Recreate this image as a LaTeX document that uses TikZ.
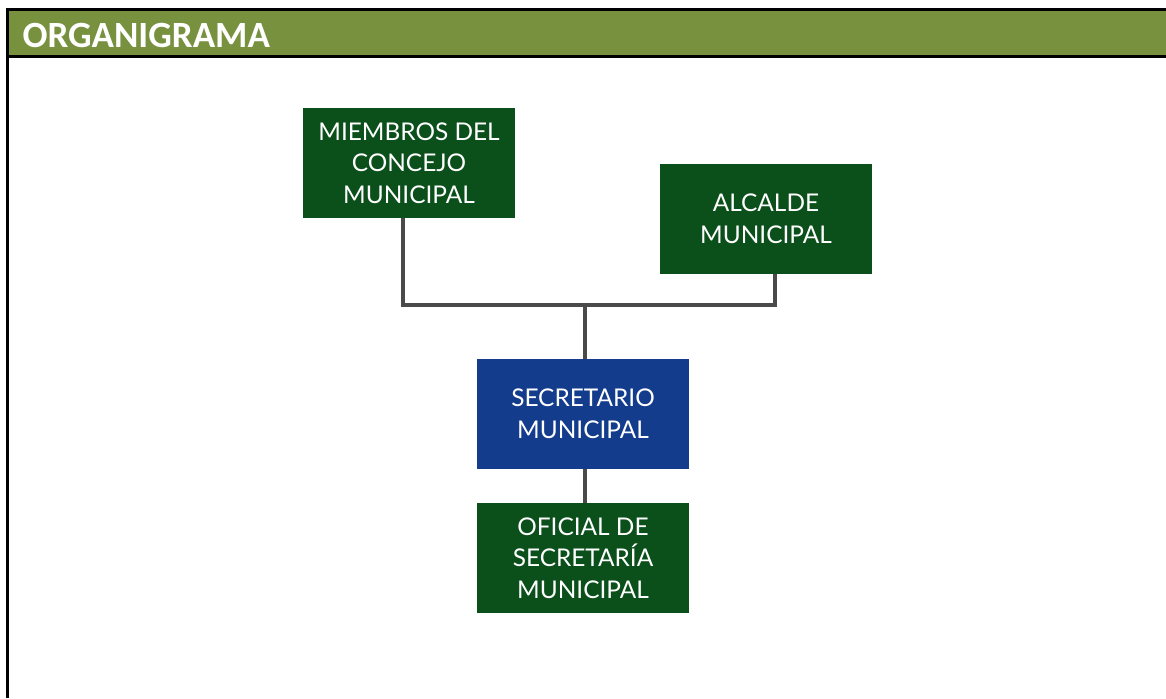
\documentclass[tikz,border=0pt]{standalone}
\usepackage{fontspec}
\setmainfont{Lato}
\newfontfamily\headfont{Carlito}
\definecolor{headgreen}{HTML}{77913F}
\definecolor{boxgreen}{HTML}{0B4F1B}
\definecolor{boxblue}{HTML}{143C8C}
\definecolor{linkgray}{HTML}{4A4A4A}
\tikzset{
  orgbox/.style={fill=boxgreen,text=white,minimum width=212pt,minimum height=110pt,
    align=center,font=\fontsize{24.4}{31.5}\selectfont,inner sep=0pt},
  link/.style={draw=linkgray,line width=3.5pt}
}
\begin{document}
\begin{tikzpicture}[x=1pt,y=-1pt]
        \useasboundingbox (0,0) rectangle (1166,698);
        % frame and title bar
        \fill[headgreen] (7,10) rectangle (1166,57);
        \draw[line width=3pt] (1166,10) -- (7,10) -- (7,698);
        \draw[line width=3pt] (7,57) -- (1166,57);
        \node[anchor=west,text=white,font=\headfont\bfseries\fontsize{37}{37}\selectfont] (title) at (19,35) {ORGANIGRAMA};
        % boxes
        \node[orgbox] (miembros) at (409,163) {MIEMBROS DEL\\CONCEJO\\MUNICIPAL};
        \node[orgbox] (alcalde) at (766,219) {ALCALDE\\MUNICIPAL};
        \node[orgbox,fill=boxblue] (secretario) at (583,414) {SECRETARIO\\MUNICIPAL};
        \node[orgbox] (oficial) at (583,558) {OFICIAL DE\\SECRETAR\'IA\\MUNICIPAL};
        % connectors
        \coordinate (join) at (585,305);
        \draw[link] (miembros.south -| 403,0) |- (join) -| (alcalde.south -| 775,0);
        \draw[link] (join) -- (join |- secretario.north);
        \draw[link] (secretario.south -| join) -- (oficial.north -| join);
      \end{tikzpicture}
\end{document}
